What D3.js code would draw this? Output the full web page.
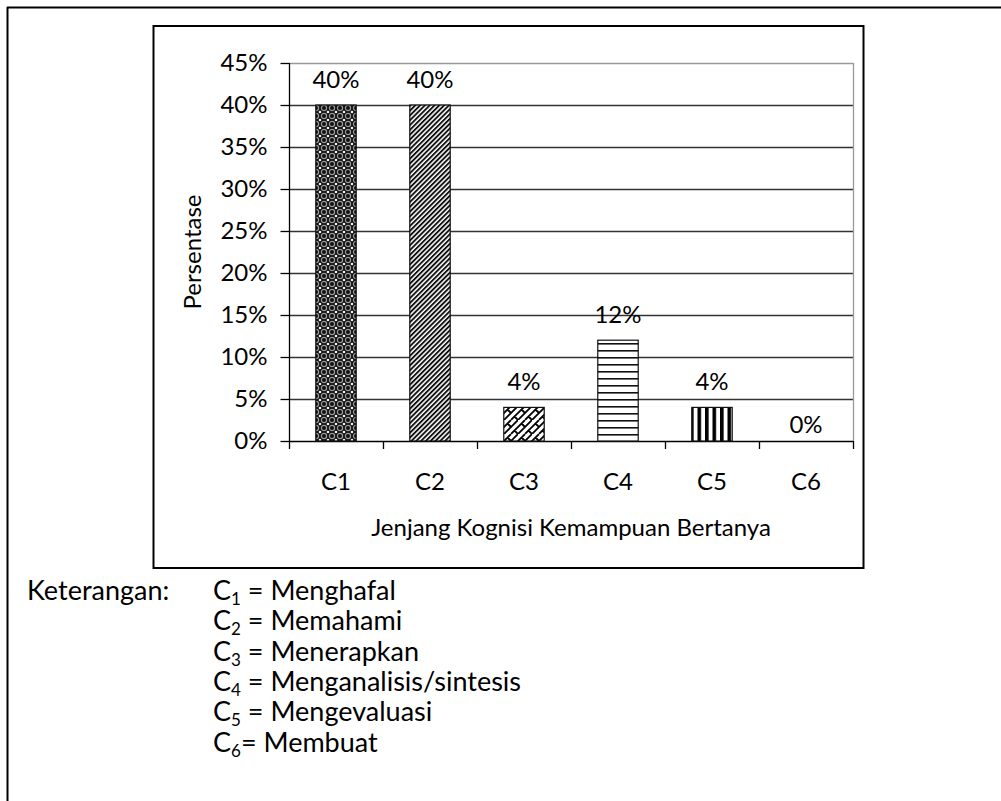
<!DOCTYPE html>
<html>
<head>
<meta charset="utf-8">
<script src="https://cdn.jsdelivr.net/npm/d3@7.9.0/dist/d3.min.js"></script>
<style>
  body { margin: 0; background: #fff; }
  svg text { font-family: Lato, "Open Sans", sans-serif; fill: #000; }
</style>
</head>
<body>
<svg id="chart" width="1001" height="801"></svg>
<script>
// values
const categories = ['C1', 'C2', 'C3', 'C4', 'C5', 'C6'];
const values = [0.40, 0.40, 0.04, 0.12, 0.04, 0.00];
const patterns = ['pat-weave', 'pat-diag', 'pat-shingle', 'pat-horiz', 'pat-vert', 'pat-vert'];
const yTicks = [0, 0.05, 0.10, 0.15, 0.20, 0.25, 0.30, 0.35, 0.40, 0.45];
const legendSubs = ['1', '2', '3', '4', '5', '6'];
const legendNames = ['Menghafal', 'Memahami', 'Menerapkan', 'Menganalisis/sintesis', 'Mengevaluasi', 'Membuat'];

const svg = d3.select('#chart');
const defs = svg.append('defs');

// fill patterns (black & white, like the original)
let p = defs.append('pattern').attr('id', 'pat-weave').attr('patternUnits', 'userSpaceOnUse')
  .attr('width', 8).attr('height', 8);
p.append('rect').attr('width', 8).attr('height', 8).attr('fill', '#111');
p.append('circle').attr('cx', 4).attr('cy', 4).attr('r', 2.6).attr('fill', 'none').attr('stroke', '#999').attr('stroke-width', 1.2);
p.append('circle').attr('cx', 0).attr('cy', 0).attr('r', 1.3).attr('fill', '#eee');
p.append('circle').attr('cx', 8).attr('cy', 0).attr('r', 1.3).attr('fill', '#eee');
p.append('circle').attr('cx', 0).attr('cy', 8).attr('r', 1.3).attr('fill', '#eee');
p.append('circle').attr('cx', 8).attr('cy', 8).attr('r', 1.3).attr('fill', '#eee');

p = defs.append('pattern').attr('id', 'pat-diag').attr('patternUnits', 'userSpaceOnUse')
  .attr('width', 3.4).attr('height', 3.4).attr('patternTransform', 'rotate(45)');
p.append('rect').attr('width', 3.4).attr('height', 3.4).attr('fill', '#fff');
p.append('rect').attr('width', 1.9).attr('height', 3.4).attr('fill', '#111');

p = defs.append('pattern').attr('id', 'pat-shingle').attr('patternUnits', 'userSpaceOnUse')
  .attr('width', 14).attr('height', 14);
p.append('rect').attr('width', 14).attr('height', 14).attr('fill', '#fff');
p.append('path').attr('d', 'M0,14 L14,0 M-7,14 L7,0 M7,14 L21,0 M3.5,3.5 L7,7 M10.5,10.5 L14,14 M-3.5,10.5 L0,14 M10.5,-3.5 L14,0')
  .attr('stroke', '#000').attr('stroke-width', 1.8).attr('fill', 'none');

p = defs.append('pattern').attr('id', 'pat-horiz').attr('patternUnits', 'userSpaceOnUse')
  .attr('width', 8).attr('height', 7);
p.append('rect').attr('width', 8).attr('height', 7).attr('fill', '#fff');
p.append('rect').attr('y', 0).attr('width', 8).attr('height', 1.6).attr('fill', '#111');

p = defs.append('pattern').attr('id', 'pat-vert').attr('patternUnits', 'userSpaceOnUse')
  .attr('width', 7.5).attr('height', 8);
p.append('rect').attr('width', 7.5).attr('height', 8).attr('fill', '#fff');
p.append('rect').attr('x', 0).attr('width', 3.6).attr('height', 8).attr('fill', '#000');

// outer page border (open on right/bottom as cropped)
svg.append('line').attr('x1', 7).attr('x2', 1001).attr('y1', 7.5).attr('y2', 7.5).attr('stroke', '#000').attr('stroke-width', 2);
svg.append('line').attr('x1', 7.5).attr('x2', 7.5).attr('y1', 7).attr('y2', 801).attr('stroke', '#000').attr('stroke-width', 2);

// chart frame
svg.append('rect').attr('x', 153.5).attr('y', 26).attr('width', 710).attr('height', 542)
  .attr('fill', 'none').attr('stroke', '#000').attr('stroke-width', 2);

const plot = { left: 289, right: 853, top: 63, bottom: 441 };

const y = d3.scaleLinear().domain([0, 0.45]).range([plot.bottom, plot.top]);
const x = d3.scaleBand().domain(categories).range([plot.left, plot.right])
  .paddingInner(0.57).paddingOuter(0.285);

// gridlines
svg.append('g').selectAll('line').data(yTicks.filter(t => t > 0)).join('line')
  .attr('x1', plot.left).attr('x2', plot.right)
  .attr('y1', d => Math.round(y(d)) + 0.5).attr('y2', d => Math.round(y(d)) + 0.5)
  .attr('stroke', (d, i, a) => i === a.length - 1 ? '#999' : '#333').attr('stroke-width', 1.3);

// plot area right border
svg.append('line').attr('x1', plot.right + 0.5).attr('x2', plot.right + 0.5)
  .attr('y1', plot.top).attr('y2', plot.bottom).attr('stroke', '#999').attr('stroke-width', 1.3);

// y axis
const yAxis = d3.axisLeft(y).tickValues(yTicks).tickFormat(d3.format('.0%')).tickSize(9).tickPadding(13);
const gy = svg.append('g').attr('transform', `translate(${plot.left + 0.5},0)`).call(yAxis);
gy.select('.domain').attr('stroke', '#000').attr('stroke-width', 1.3).attr('d', `M0,${plot.top}V${plot.bottom}`);
gy.selectAll('.tick line').attr('stroke', '#000').attr('stroke-width', 1.3);
gy.selectAll('.tick text').attr('font-size', 24).attr('font-family', 'Lato');

// x axis line + boundary ticks
svg.append('line').attr('x1', plot.left).attr('x2', plot.right)
  .attr('y1', plot.bottom + 0.5).attr('y2', plot.bottom + 0.5).attr('stroke', '#000').attr('stroke-width', 1.5);
const bounds = d3.range(categories.length + 1).map(i => plot.left + i * x.step());
svg.append('g').selectAll('line').data(bounds).join('line')
  .attr('x1', d => d + 0.5).attr('x2', d => d + 0.5)
  .attr('y1', plot.bottom).attr('y2', plot.bottom + 8).attr('stroke', '#000').attr('stroke-width', 1.3);

// category labels
svg.append('g').selectAll('text').data(categories).join('text')
  .attr('x', d => x(d) + x.bandwidth() / 2).attr('y', 490)
  .attr('text-anchor', 'middle').attr('font-size', 24).text(d => d);

// bars
svg.append('g').selectAll('rect').data(categories).join('rect')
  .attr('x', d => x(d)).attr('width', x.bandwidth())
  .attr('y', (d, i) => y(values[i])).attr('height', (d, i) => y(0) - y(values[i]))
  .attr('fill', (d, i) => `url(#${patterns[i]})`)
  .attr('stroke', (d, i) => values[i] > 0 ? '#111' : 'none').attr('stroke-width', 1.2);

// value labels
svg.append('g').selectAll('text').data(categories).join('text')
  .attr('x', d => x(d) + x.bandwidth() / 2)
  .attr('y', (d, i) => values[i] > 0 ? y(values[i]) - 17 : y(0) - 8)
  .attr('text-anchor', 'middle').attr('font-size', 24)
  .text((d, i) => d3.format('.0%')(values[i]));

// axis titles
svg.append('text').attr('x', (plot.left + plot.right) / 2).attr('y', 536)
  .attr('text-anchor', 'middle').attr('font-size', 24).text('Jenjang Kognisi Kemampuan Bertanya');
svg.append('text').attr('transform', `translate(201,${(plot.top + plot.bottom) / 2}) rotate(-90)`)
  .attr('text-anchor', 'middle').attr('font-size', 24).text('Persentase');

// legend / keterangan
svg.append('text').attr('x', 27).attr('y', 600).attr('font-size', 27).text('Keterangan:');
const leg = svg.append('g').selectAll('text').data(legendNames).join('text')
  .attr('x', 213).attr('y', (d, i) => 600 + i * 30.3).attr('font-size', 27);
leg.append('tspan').text('C');
leg.append('tspan').attr('font-size', 17).attr('dy', 5).text((d, i) => legendSubs[i]);
leg.append('tspan').attr('dy', -5).text((d, i) => (i === 5 ? '= ' : ' = ') + d);
</script>
</body>
</html>
